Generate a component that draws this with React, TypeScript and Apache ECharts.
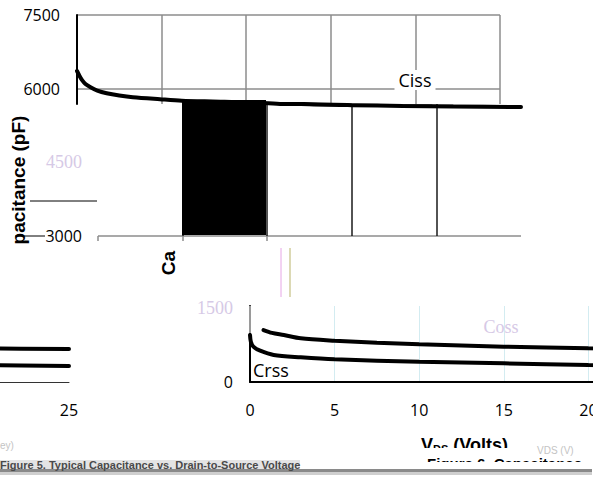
import React, { useEffect, useRef } from "react";
import * as echarts from "echarts";

// ---- data ----
const xTickValues = [0, 5, 10, 15, 20, 25];
const upperYTicks = [6000, 7500];
const middleYTicks = [3000, 4500];
const lowerYTicks = [0, 1500];

const cissV = [0, 0.15, 0.3, 0.5, 0.8, 1.2, 1.75, 2.5, 3.3, 4.9, 6.2, 8, 10, 12, 15, 18, 21, 25];
const cissPF = [6360, 6260, 6175, 6095, 6028, 5960, 5906, 5860, 5825, 5785, 5756, 5740, 5725, 5690, 5665, 5648, 5637, 5627];

const cossV = [0.8, 1.3, 2, 3, 5, 7.5, 10, 15, 20, 25];
const cossPF = [1058, 1000, 957, 889, 841, 800, 767, 719, 685, 672];

const crssV = [0, 0.05, 0.2, 0.6, 1.4, 3, 5, 10, 15, 20, 25];
const crssPF = [957, 820, 720, 637, 550, 503, 462, 413, 380, 346, 326];

const zip = (a: number[], b: number[]) => a.map((v, i) => [v, b[i]]);

const TICK_FONT = "Open Sans";
const PASTEL = "#d6c9e6";

export default function App() {
  const ref = useRef<HTMLDivElement>(null);

  useEffect(() => {
    document.body.style.margin = "0";
    if (!ref.current) return;
    const chart = echarts.init(ref.current, undefined, { renderer: "svg" });

    const gray = "#8c8c8c";
    const plain = (v: number) => String(v);
    const xBase = (extra: any = {}) => ({
      type: "value",
      min: xTickValues[0],
      max: xTickValues[xTickValues.length - 1],
      interval: 5,
      axisLine: { show: false },
      axisTick: { show: false },
      axisLabel: { show: false },
      splitLine: { show: false },
      ...extra,
    });

    const lineSeries = (data: number[][], gi: number, w = 4) => ({
      type: "line",
      xAxisIndex: gi,
      yAxisIndex: gi,
      data,
      symbol: "none",
      smooth: 0.3,
      clip: true,
      lineStyle: { color: "#000", width: w, cap: "round" },
      silent: true,
    });

    const g = (left: number, top: number, width: number, height: number) => ({
      left, top, width, height, outerBoundsMode: "none", containLabel: false,
    });

    const option: any = {
      animation: false,
      grid: [
        g(77, 15, 423, 89),
        g(98, 104, 423, 132),
        g(98, 236, 423, 106),
        g(250, 306, 423, 76),
        g(0, 306, 69, 76),
      ],
      xAxis: [
        xBase({
          gridIndex: 0,
          splitLine: { show: true, showMinLine: false, showMaxLine: true, lineStyle: { color: gray, width: 1.5 } },
        }),
        xBase({
          gridIndex: 1,
          axisLine: { show: false },
          axisTick: { show: true, customValues: [0, 5, 10], length: 5, inside: false, lineStyle: { color: gray, width: 1.5 } },
          splitLine: { show: false },
        }),
        xBase({
          gridIndex: 2,
          axisTick: { show: false, customValues: [15, 20] },
          splitLine: { show: true, showMinLine: false, showMaxLine: false, lineStyle: { color: "#6a6a6a", width: 1.5 } },
        }),
        xBase({
          gridIndex: 3,
          axisLine: { show: true, lineStyle: { color: "#000", width: 2 } },
          axisLabel: { show: true, margin: 20, fontSize: 16, color: "#000", fontFamily: TICK_FONT, formatter: plain },
          splitLine: { show: true, showMinLine: false, showMaxLine: false, lineStyle: { color: "#d3ecf1", width: 1 } },
        }),
        {
          gridIndex: 4,
          type: "value",
          min: 20.922,
          max: 25,
          axisLine: { show: true, lineStyle: { color: "#333", width: 1 } },
          axisTick: { show: false, customValues: [25] },
          axisLabel: { show: true, customValues: [25], margin: 20, fontSize: 16, color: "#000", fontFamily: TICK_FONT, formatter: plain },
          splitLine: { show: true, showMinLine: false, showMaxLine: true, lineStyle: { color: "#777", width: 1 } },
        },
        // duplicate x axis on band B for its dark vertical grid lines
        xBase({
          gridIndex: 1,
          splitLine: { show: true, showMinLine: false, showMaxLine: false, lineStyle: { color: "#1a1a1a", width: 1.5 } },
        }),
      ],
      yAxis: [
        {
          gridIndex: 0,
          type: "value",
          min: 5688,
          max: 7500,
          axisLine: { show: true, lineStyle: { color: "#000", width: 2 } },
          axisTick: { show: false, customValues: upperYTicks },
          axisLabel: { customValues: upperYTicks, margin: 17, fontSize: 16, color: "#000", fontFamily: TICK_FONT, formatter: plain },
          splitLine: { show: true, showMinLine: true, showMaxLine: true, lineStyle: { color: gray, width: 1.5 } },
        },
        {
          gridIndex: 1,
          type: "value",
          min: 3000,
          max: 5688,
          axisLine: { show: false },
          axisTick: { show: false, customValues: middleYTicks },
          axisLabel: {
            customValues: middleYTicks,
            margin: 16,
            formatter: (v: number) => (v === 4500 ? `{p|${v}}` : `{b|${v}}`),
            rich: {
              p: { fontSize: 18, color: PASTEL, fontFamily: "Liberation Serif" },
              b: { fontSize: 16, color: "#000", fontFamily: TICK_FONT },
            },
          },
          splitLine: { show: true, showMinLine: true, showMaxLine: false, lineStyle: { color: gray, width: 1.5 } },
        },
        {
          gridIndex: 2,
          type: "value",
          min: 0,
          max: 1,
          show: false,
        },
        {
          gridIndex: 3,
          type: "value",
          min: 0,
          max: 1547,
          axisLine: { show: true, lineStyle: { color: "#000", width: 2 } },
          axisTick: { show: false, customValues: lowerYTicks },
          axisLabel: {
            customValues: lowerYTicks,
            margin: 17,
            formatter: (v: number) => (v === 1500 ? `{p|${v}}` : `{b|${v}}`),
            rich: {
              p: { fontSize: 18, color: PASTEL, fontFamily: "Liberation Serif" },
              b: { fontSize: 16, color: "#000", fontFamily: TICK_FONT },
            },
          },
          splitLine: { show: true, showMinLine: false, showMaxLine: false, lineStyle: { color: gray, width: 1.5 } },
        },
        {
          gridIndex: 4,
          type: "value",
          min: 0,
          max: 1547,
          axisLine: { show: false },
          axisTick: { show: false, customValues: lowerYTicks },
          axisLabel: { show: false },
          splitLine: { show: true, showMinLine: false, showMaxLine: false, lineStyle: { color: gray, width: 1.5 } },
        },
      ],
      series: [
        lineSeries(zip(cissV, cissPF), 0),
        lineSeries(zip(cissV, cissPF), 1),
        lineSeries(zip(cossV, cossPF), 3),
        lineSeries(zip(crssV, crssPF), 3),
        lineSeries(zip(cossV, cossPF), 4),
        lineSeries(zip(crssV, crssPF), 4),
      ],
      graphic: [
        { type: "rect", z: 10, shape: { x: 182, y: 100, width: 84, height: 135 }, style: { fill: "#000" } },
        { type: "line", z: 10, shape: { x1: 30, y1: 201, x2: 97, y2: 201 }, style: { stroke: "#000", lineWidth: 1 } },
        { type: "line", z: 10, shape: { x1: 15, y1: 236, x2: 45, y2: 236 }, style: { stroke: "#000", lineWidth: 1 } },
        { type: "line", z: 10, shape: { x1: 281, y1: 248, x2: 281, y2: 297 }, style: { stroke: "#e6a6e6", lineWidth: 1 } },
        { type: "line", z: 10, shape: { x1: 290, y1: 248, x2: 290, y2: 297 }, style: { stroke: "#b9b46a", lineWidth: 1 } },
        { type: "line", z: 10, shape: { x1: 250, y1: 306, x2: 250, y2: 333 }, style: { stroke: "#9a9a9a", lineWidth: 2 } },
        {
          type: "text", z: 12, x: 415, y: 80,
          style: { text: "Ciss", fill: "#000", font: `18px '${TICK_FONT}'`, textAlign: "center", textVerticalAlign: "middle", backgroundColor: "#fff", padding: [1, 4] },
        },
        {
          type: "text", z: 12, x: 253, y: 370,
          style: { text: "Crss", fill: "#000", font: `18px '${TICK_FONT}'`, textAlign: "left", textVerticalAlign: "middle" },
        },
        {
          type: "text", z: 12, x: 501, y: 327,
          style: { text: "Coss", fill: PASTEL, font: "18px 'Liberation Serif'", textAlign: "center", textVerticalAlign: "middle" },
        },
        {
          type: "text", z: 12, x: 18, y: 180, rotation: Math.PI / 2,
          style: { text: "pacitance (pF)", fill: "#000", font: "bold 19px 'Liberation Sans'", textAlign: "center", textVerticalAlign: "middle" },
        },
        {
          type: "text", z: 12, x: 168, y: 263, rotation: Math.PI / 2,
          style: { text: "Ca", fill: "#000", font: "bold 19px 'Liberation Sans'", textAlign: "center", textVerticalAlign: "middle" },
        },
        {
          type: "text", z: 12, x: 421, y: 436,
          style: {
            text: "{v|V}{s|DS}{v| (Volts)}",
            rich: {
              v: { font: "bold 18px 'Liberation Sans'", fill: "#000" },
              s: { font: "bold 11px 'Liberation Sans'", fill: "#000", verticalAlign: "bottom" },
            },
            textAlign: "left", textVerticalAlign: "top",
          },
        },
        { type: "rect", z: 20, shape: { x: 400, y: 448, width: 150, height: 9 }, style: { fill: "#fff" } },
        {
          type: "text", z: 21, x: 427, y: 456,
          style: { text: "Figure 6. Capacitance", fill: "#000", font: "bold 15px 'Liberation Sans'", textAlign: "left", textVerticalAlign: "top" },
        },
        {
          type: "text", z: 21, x: 537, y: 450,
          style: { text: "VDS (V)", fill: "#c4c4c4", font: "10px 'Liberation Sans'", textAlign: "left", textVerticalAlign: "middle" },
        },
        {
          type: "text", z: 21, x: 0, y: 445,
          style: { text: "ey)", fill: "#c4c4c4", font: "10px 'Liberation Sans'", textAlign: "left", textVerticalAlign: "middle" },
        },
        { type: "rect", z: 22, shape: { x: 300, y: 462, width: 304, height: 16 }, style: { fill: "#fff" } },
        { type: "rect", z: 23, shape: { x: 0, y: 460, width: 300, height: 11 }, style: { fill: "#e4e4e4" } },
        {
          type: "text", z: 24, x: 0, y: 465,
          style: { text: "Figure 5. Typical Capacitance vs. Drain-to-Source Voltage", fill: "#4a4a4a", font: "bold 11px 'Liberation Sans'", textAlign: "left", textVerticalAlign: "middle" },
        },
        { type: "rect", z: 23, shape: { x: 0, y: 469, width: 592, height: 3 }, style: { fill: "#8a8a8a" } },
        { type: "rect", z: 23, shape: { x: 0, y: 472, width: 592, height: 3 }, style: { fill: "#cfcfcf" } },
        { type: "rect", z: 30, shape: { x: 593, y: 296, width: 11, height: 182 }, style: { fill: "#fff" } },
      ],
    };

    chart.setOption(option);
    return () => chart.dispose();
  }, []);

  return <div ref={ref} style={{ width: 604, height: 478 }} />;
}
